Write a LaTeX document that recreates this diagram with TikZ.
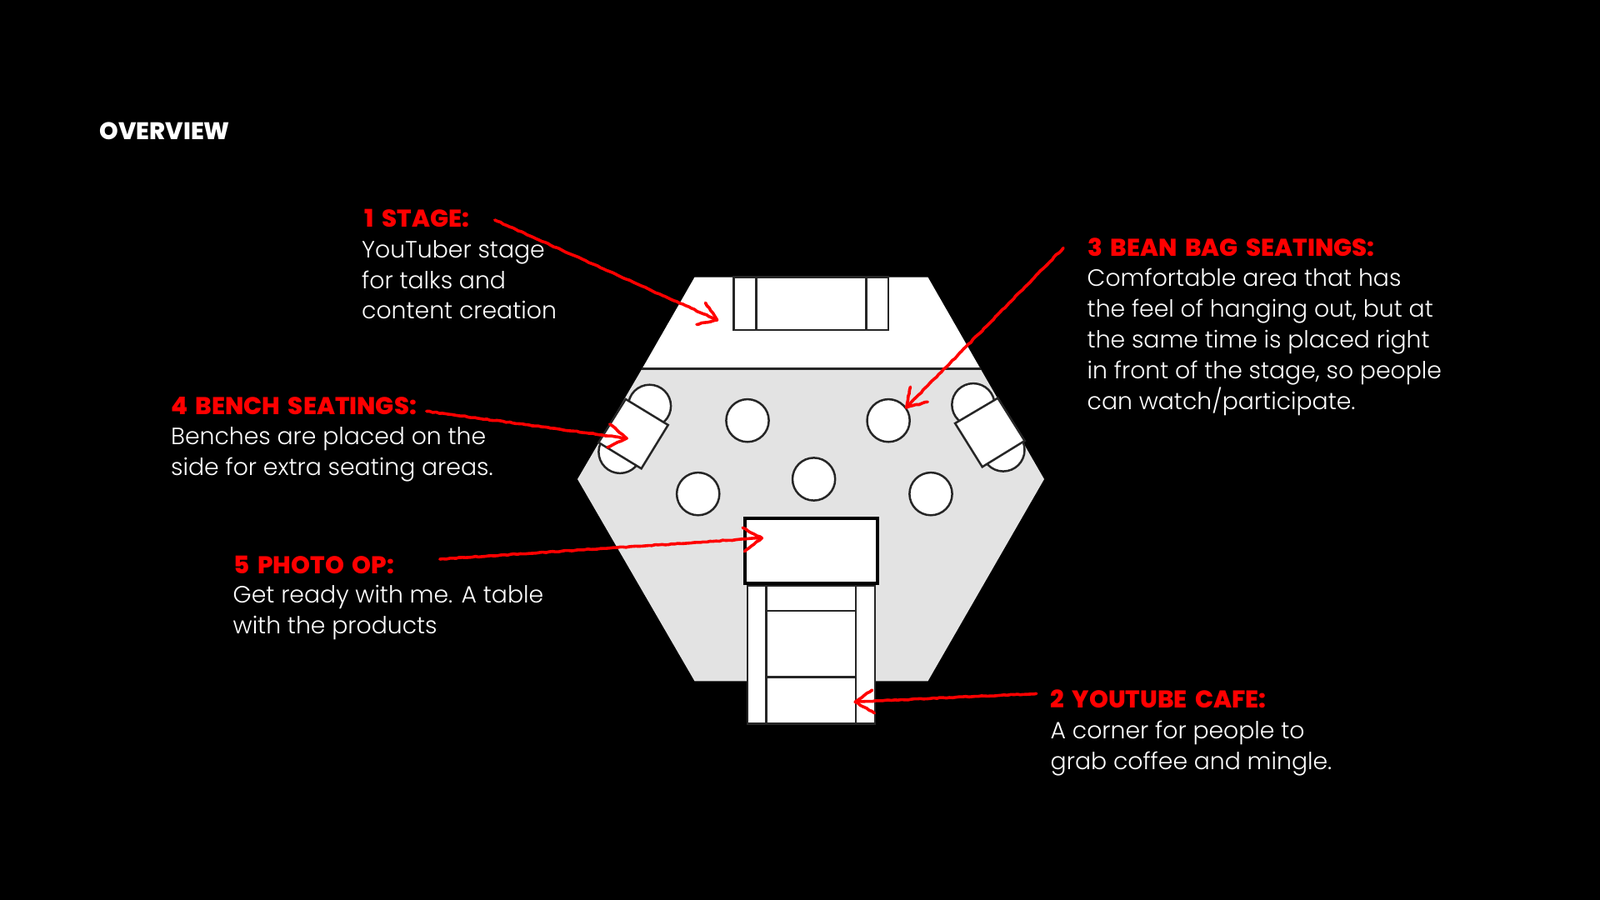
\documentclass[tikz,border=0pt]{standalone}
\usepackage{fontspec}
\usepackage{xcolor}
\usetikzlibrary{decorations.pathmorphing}
\newfontfamily\headfont[WordSpace=1.7]{Poppins ExtraBold}
\newfontfamily\bodyfont{Poppins Light}
\tikzset{
  plan/.style={draw=black!85,line width=0.25mm},
  seat/.style={plan,fill=white},
  sketch/.style={draw=red,line width=0.36mm,line cap=round,line join=round,decorate,decoration={random steps,segment length=1.1pt,amplitude=0.16pt}},
  heading/.style={anchor=base west,inner sep=0pt,red,font=\headfont\fontsize{8.3pt}{10pt}\selectfont},
  blurb/.style={anchor=north west,inner sep=0pt,white,align=left,font=\bodyfont\fontsize{8.05pt}{10.5pt}\selectfont},
}
\begin{document}
\begin{tikzpicture}[x=1cm,y=1cm]
\fill[black] (0,0) rectangle (19.2,10.8);
\useasboundingbox (0,0) rectangle (19.2,10.8);
% hall
\fill[white] (8.335,7.473) -- (11.135,7.473) -- (11.766,6.373) -- (7.704,6.373) -- cycle;
\fill[black!11] (7.704,6.373) -- (11.766,6.373) -- (12.53,5.05) -- (11.135,2.627) -- (8.335,2.627) -- (6.93,5.05) -- cycle;
\draw[plan] (7.704,6.373) -- (11.766,6.373);
% stage
\draw[seat] (8.805,7.473) rectangle (10.66,6.84);
\draw[plan] (9.073,7.473) -- (9.073,6.84);
\draw[plan] (10.394,7.473) -- (10.394,6.84);
% bean bags
\foreach \x/\y in {8.97/5.753,10.661/5.753,9.766/5.05,8.377/4.873,11.17/4.873,7.795/5.927,7.44/5.377,11.679/5.943,12.039/5.40}
  \draw[seat] (\x,\y) circle (0.256);
% benches
\draw[seat] (7.508,6.01) -- (8.017,5.70) -- (7.696,5.177) -- (7.183,5.49) -- cycle;
\draw[seat] (11.974,6.023) -- (11.461,5.72) -- (11.787,5.197) -- (12.296,5.51) -- cycle;
% cafe
\draw[seat] (8.97,3.773) rectangle (10.50,2.113);
\draw[plan] (9.196,3.773) -- (9.196,2.113);
\draw[plan] (10.27,3.773) -- (10.27,2.113);
\draw[plan] (9.196,3.47) -- (10.27,3.47);
\draw[plan] (9.196,2.673) -- (10.27,2.673);
% photo table
\draw[seat,line width=0.4mm,draw=black] (8.935,4.58) rectangle (10.531,3.80);
% texts
\node[anchor=base west,inner sep=0pt,white,font=\headfont\fontsize{8.2pt}{10pt}\selectfont] (overview) at (1.19,9.125) {OVERVIEW};
\node[heading] (stage) at (4.37,8.07) {1 STAGE:};
\node[blurb] (stagetext) at (4.335,7.925) {YouTuber stage\\for talks and\\content creation};
\node[heading] (beanbag) at (13.05,7.728) {3 BEAN BAG SEATINGS:};
\node[blurb] (beanbagtext) at (13.04,7.585) {Comfortable area that has\\the feel of hanging out, but at\\the same time is placed right\\in front of the stage, so people\\can watch/participate.};
\node[heading] (bench) at (2.045,5.828) {4 BENCH SEATINGS:};
\node[blurb] (benchtext) at (2.045,5.685) {Benches are placed on the\\side for extra seating areas.};
\node[heading] (photo) at (2.80,3.918) {5 PHOTO OP:};
\node[blurb] (phototext) at (2.79,3.785) {Get ready with me. A table\\with the products};
\node[heading] (cafe) at (12.60,2.302) {2 YOUTUBE CAFE:};
\node[blurb] (cafetext) at (12.60,2.16) {A corner for people to\\grab coffee and mingle.};
% arrows
\coordinate (stagefrom) at (5.937,8.16);
\coordinate (stagetip) at (8.606,6.96);
\draw[sketch] (stagefrom) -- (stagetip);
\draw[sketch] (8.465,7.167) -- (stagetip) -- (8.36,6.907);
\coordinate (cafefrom) at (12.437,2.477);
\coordinate (cafetip) at (10.263,2.377);
\draw[sketch] (cafefrom) -- (cafetip);
\draw[sketch] (10.466,2.52) -- (cafetip) -- (10.493,2.243);
\coordinate (beanbagfrom) at (12.76,7.825);
\coordinate (beanbagtip) at (10.876,5.91);
\draw[sketch] (beanbagfrom) -- (beanbagtip);
\draw[sketch] (10.925,6.157) -- (beanbagtip) -- (11.132,5.977);
\coordinate (benchfrom) at (5.118,5.865);
\coordinate (benchtip) at (7.52,5.54);
\draw[sketch] (benchfrom) -- (benchtip);
\draw[sketch] (7.317,5.71) -- (benchtip) -- (7.29,5.433);
\coordinate (photofrom) at (5.278,4.09);
\coordinate (phototip) at (9.142,4.343);
\draw[sketch] (photofrom) -- (phototip);
\draw[sketch] (8.912,4.467) -- (phototip) -- (8.935,4.183);
\end{tikzpicture}
\end{document}
